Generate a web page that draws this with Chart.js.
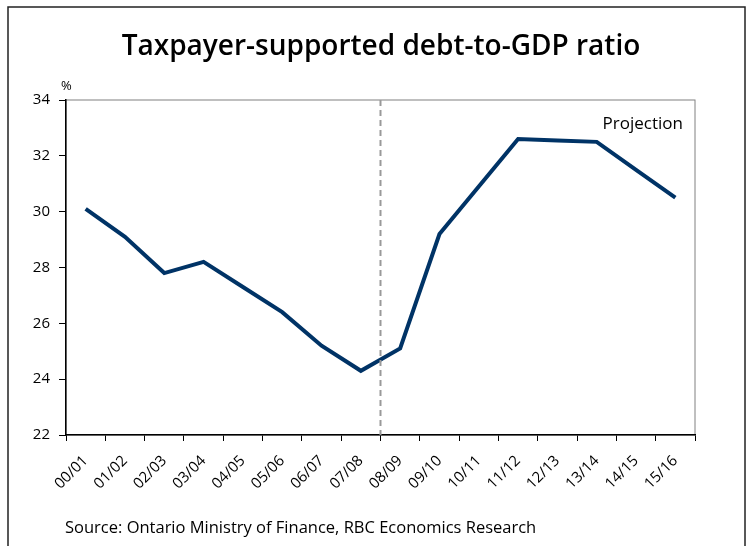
<!DOCTYPE html>
<html>
<head>
<meta charset="utf-8">
<script src="https://cdn.jsdelivr.net/npm/chart.js@4.4.1/dist/chart.umd.min.js"></script>
<style>
  html, body { margin: 0; padding: 0; background: #fff; }
  #wrap { width: 753px; height: 546px; position: relative; }
</style>
</head>
<body>
<div id="wrap"><canvas id="chart" width="753" height="546"></canvas></div>
<script>
const years = ['00/01', '01/02', '02/03', '03/04', '04/05', '05/06', '06/07', '07/08',
  '08/09', '09/10', '10/11', '11/12', '12/13', '13/14', '14/15', '15/16'];
const debtRatio = [30.1, 29.1, 27.8, 28.2, 27.3, 26.4, 25.2, 24.3,
  25.1, 29.2, 30.9, 32.6, 32.55, 32.5, 31.5, 30.5];
const yTicks = [22, 24, 26, 28, 30, 32, 34];
const projectionStart = 7.5; // boundary between 07/08 and 08/09

const FONT = '"Open Sans", "Noto Sans", sans-serif';

const decorations = {
  id: 'decorations',
  beforeDraw(chart) {
    const { ctx, chartArea: a } = chart;
    ctx.save();
    ctx.fillStyle = '#fff';
    ctx.fillRect(0, 0, chart.width, chart.height);
    // outer frame
    ctx.strokeStyle = '#222';
    ctx.lineWidth = 1.5;
    ctx.strokeRect(8, 7, 737, 600);
    // plot box
    ctx.strokeStyle = '#808080';
    ctx.lineWidth = 1;
    ctx.strokeRect(a.left, a.top, a.right - a.left, a.bottom - a.top);
    ctx.restore();
  },
  afterDatasetsDraw(chart) {
    const { ctx, chartArea: a, scales } = chart;
    const x = scales.x.getPixelForValue(projectionStart);
    ctx.save();
    ctx.strokeStyle = '#999';
    ctx.lineWidth = 2;
    ctx.setLineDash([6, 4]);
    ctx.beginPath();
    ctx.moveTo(x, a.top);
    ctx.lineTo(x, a.bottom);
    ctx.stroke();
    ctx.setLineDash([]);
    ctx.fillStyle = '#000';
    ctx.textBaseline = 'alphabetic';
    ctx.font = '600 28px ' + FONT;
    ctx.textAlign = 'center';
    ctx.fillText('Taxpayer-supported debt-to-GDP ratio', 381, 55);
    ctx.font = '13px ' + FONT;
    ctx.textAlign = 'left';
    ctx.fillText('%', 61, 90);
    ctx.font = '17px ' + FONT;
    ctx.textAlign = 'right';
    ctx.fillText('Projection', 683, 129);
    ctx.font = '16.5px ' + FONT;
    ctx.textAlign = 'left';
    ctx.fillText('Source: Ontario Ministry of Finance, RBC Economics Research', 65, 533);
    ctx.restore();
  }
};

new Chart(document.getElementById('chart'), {
  type: 'line',
  data: {
    labels: years,
    datasets: [{
      data: debtRatio,
      borderColor: '#003366',
      borderWidth: 4,
      pointRadius: 0,
      tension: 0,
      fill: false
    }]
  },
  options: {
    responsive: false,
    animation: false,
    layout: { padding: { top: 100, left: 0, right: 58, bottom: 0 } },
    plugins: { legend: { display: false }, tooltip: { enabled: false } },
    scales: {
      x: {
        offset: true,
        grid: { offset: true, drawOnChartArea: false, tickLength: 6, color: '#000' },
        border: { color: '#000', width: 1.5 },
        ticks: {
          color: '#000', font: { family: FONT, size: 15 }, padding: 11,
          minRotation: 45, maxRotation: 45, autoSkip: false
        },
        afterFit(scale) { scale.height = 111; }
      },
      y: {
        min: 22,
        max: 34,
        afterBuildTicks(scale) { scale.ticks = yTicks.map(v => ({ value: v })); },
        grid: { drawOnChartArea: false, tickLength: 7, color: '#000' },
        border: { color: '#000', width: 1.5 },
        ticks: { color: '#000', font: { family: FONT, size: 15 }, padding: 9 },
        afterFit(scale) { scale.width = 66; }
      }
    }
  },
  plugins: [decorations]
});
</script>
</body>
</html>
